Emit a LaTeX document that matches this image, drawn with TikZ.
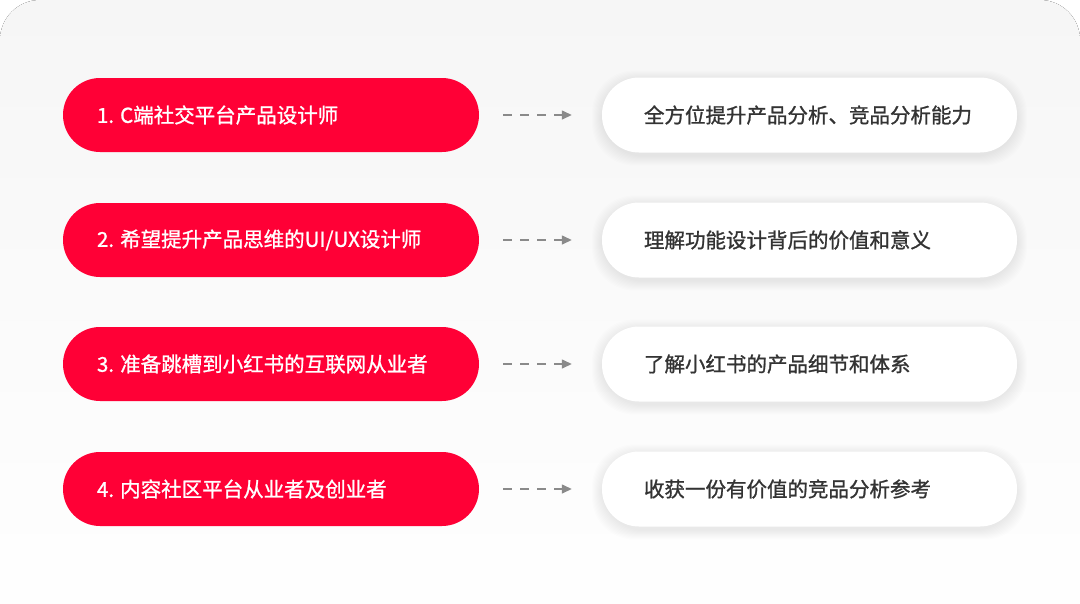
\documentclass[tikz,border=0pt]{standalone}
\usepackage{fontspec}
\usepackage{xcolor}
\usepackage{tikz}
\usetikzlibrary{arrows.meta}
\newfontfamily\cjk[FakeBold=1.1]{Noto Sans CJK SC}
\definecolor{brandred}{HTML}{FF0036}
\definecolor{ink}{HTML}{333333}
\definecolor{bgtop}{HTML}{F6F6F6}
\definecolor{arrgray}{HTML}{8A8A8A}
\tikzset{
  bg/.style={rounded corners=40pt, top color=bgtop, bottom color=white, draw=none},
  rp/.style={rectangle, rounded corners=37pt, fill=brandred, minimum width=416pt,
             minimum height=74pt, inner sep=0pt},                    % red pill
  wp/.style={rectangle, rounded corners=37pt, fill=white, minimum width=415pt,
             minimum height=75pt, inner sep=0pt},                    % white pill
  ws/.style={rectangle, rounded corners=42pt, fill=black, opacity=0.007,
             minimum height=75pt, inner sep=0pt},                    % soft shadow layer
  rt/.style={anchor=west, inner sep=0pt, text=white, font=\cjk\fontsize{20.5}{24}\selectfont},
  wt/.style={anchor=west, inner sep=0pt, text=ink, font=\cjk\fontsize{20.5}{24}\selectfont},
  da/.style={draw=arrgray, line width=1.4pt, dash pattern=on 9pt off 8pt,
             -{Triangle[length=10pt, width=9pt]}},                   % dashed arrow
}
\begin{document}
\begin{tikzpicture}[x=1pt, y=-1pt]
  \useasboundingbox (0,0) rectangle (1080,603);
  \fill[bg] (0,0) rectangle (1080,640);
  % left column
  \node[rp] (r1) at (271,115) {};
  \node[rp] (r2) at (271,240) {};
  \node[rp] (r3) at (271,364) {};
  \node[rp] (r4) at (271,489) {};
  \node[rt] (lt1) at ([xshift=34pt]r1.west) {1. C端社交平台产品设计师};
  \node[rt] (lt2) at ([xshift=34pt]r2.west) {2. 希望提升产品思维的UI/UX设计师};
  \node[rt] (lt3) at ([xshift=34pt]r3.west) {3. 准备跳槽到小红书的互联网从业者};
  \node[rt] (lt4) at ([xshift=34pt]r4.west) {4. 内容社区平台从业者及创业者};
  % shadows under the white pills
  \foreach \y in {115,240,364,489}
    \foreach \s in {2,4,...,20}
      \node[ws, minimum width=415pt+\s pt, minimum height=75pt+\s pt] at (809.5,\y+3) {};
  % right column
  \node[wp] (w1) at (809.5,115) {};
  \node[wp] (w2) at (809.5,240) {};
  \node[wp] (w3) at (809.5,364) {};
  \node[wp] (w4) at (809.5,489) {};
  \node[wt] (rt1) at ([xshift=42pt]w1.west) {全方位提升产品分析、竞品分析能力};
  \node[wt] (rt2) at ([xshift=42pt]w2.west) {理解功能设计背后的价值和意义};
  \node[wt] (rt3) at ([xshift=42pt]w3.west) {了解小红书的产品细节和体系};
  \node[wt] (rt4) at ([xshift=42pt]w4.west) {收获一份有价值的竞品分析参考};
  \foreach \u/\v in {r1/w1,r2/w2,r3/w3,r4/w4}
    \draw[da] ([xshift=24pt]\u.east) -- ([xshift=-30pt]\v.west);
\end{tikzpicture}
\end{document}
